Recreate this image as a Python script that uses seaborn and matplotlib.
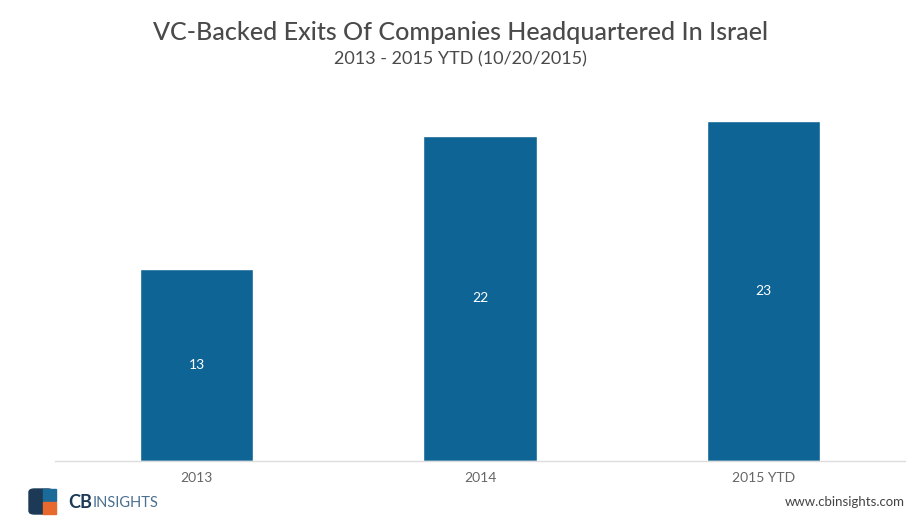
import matplotlib
matplotlib.use('Agg')
import matplotlib.pyplot as plt
import matplotlib.patches as mpatches
import pandas as pd
import seaborn as sns

# chart data
years = ['2013', '2014', '2015 YTD']
exits = [13, 22, 23]

title = 'VC-Backed Exits Of Companies Headquartered In Israel'
subtitle = '2013 - 2015 YTD (10/20/2015)'

bar_color = '#0f6496'
text_gray = '#4a4a4a'

df = pd.DataFrame({'year': years, 'exits': exits})

sns.set_style('white')
plt.rcParams['font.family'] = ['Lato', 'DejaVu Sans']

fig = plt.figure(figsize=(9.21, 5.25), dpi=100)
ax = fig.add_axes([0.0597, 0.1219, 0.923, 0.6876])

sns.barplot(data=df, x='year', y='exits', color=bar_color, saturation=1,
            width=0.4, ax=ax)
ax.set_xlim(-0.5, 2.5)
ax.set_ylim(0, 24.4)

# value labels in the middle of each bar
for i, v in enumerate(exits):
    ax.text(i, v / 2, str(v), ha='center', va='center', color='white', fontsize=10)

ax.set_xlabel('')
ax.set_ylabel('')
ax.set_yticks([])
ax.tick_params(axis='x', length=0, pad=8, labelsize=10, labelcolor='#666666')
for s in ['top', 'right', 'left']:
    ax.spines[s].set_visible(False)
ax.spines['bottom'].set_color('#dddddd')
ax.spines['bottom'].set_linewidth(1)

fig.text(0.5, 0.938, title, ha='center', va='center', fontsize=18, color=text_gray,
         fontweight='medium')
fig.text(0.5, 0.886, subtitle, ha='center', va='center', fontsize=13, color=text_gray)

# CB Insights logo
fig.patches.append(mpatches.FancyBboxPatch((29 / 921, 11 / 525), 24 / 921, 25 / 525,
                   boxstyle='round,pad=0,rounding_size=0.006', transform=fig.transFigure,
                   color='#1c3a56', zorder=3))
fig.patches.append(mpatches.Rectangle((43 / 921, 24 / 525), 13 / 921, 12 / 525,
                   transform=fig.transFigure, color='#1a6a9a', zorder=4))
fig.patches.append(mpatches.Rectangle((43 / 921, 11 / 525), 13 / 921, 12 / 525,
                   transform=fig.transFigure, color='#e8692d', zorder=4))
fig.text(68 / 921, 23 / 525, 'CB', ha='left', va='center', fontsize=13,
         fontweight='bold', color='#1c3a56')
fig.text(93 / 921, 22 / 525, 'INSIGHTS', ha='left', va='center', fontsize=10.5,
         color='#4a6f8f')
fig.text(905 / 921, 23 / 525, 'www.cbinsights.com', ha='right', va='center',
         fontsize=9.5, color='#444444')

fig.savefig('out.png', dpi=100)
